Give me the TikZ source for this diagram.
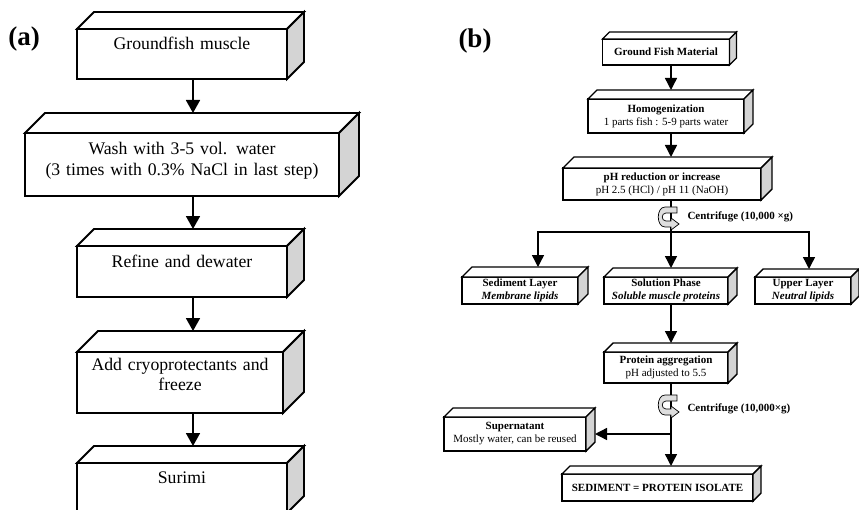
\documentclass[tikz,border=0pt]{standalone}
\usepackage{fontspec}
\setmainfont{Liberation Serif}
\usepackage{tikz}
\usetikzlibrary{arrows.meta, positioning, calc}
\definecolor{sideface}{RGB}{212,212,212}
\definecolor{spinfill}{RGB}{222,222,222}
\newcommand{\bigfont}{\fontsize{17.7bp}{20.5bp}\selectfont}
\newcommand{\smallfont}{\fontsize{11bp}{13bp}\selectfont}
\tikzset{
  abox/.style={rectangle,draw,line width=1.8bp,fill=white,outer sep=0pt,inner xsep=4bp,inner ysep=0pt,align=center,font=\bigfont},
  bbox/.style={rectangle,draw,line width=1.4bp,fill=white,outer sep=0pt,inner sep=1bp,align=center,font=\smallfont},
  aarrow/.style={-{Triangle[width=14bp,length=13bp]},line width=1.8bp},
  barrow/.style={-{Triangle[width=12bp,length=12bp]},line width=1.4bp},
  panel/.style={font=\fontsize{27bp}{30bp}\selectfont\bfseries},
}

\begin{document}
\begin{tikzpicture}[x=1bp,y=-1bp]
  \useasboundingbox (0,0) rectangle (859,510);
  \node[panel] (pa) at (24,39) {(a)};
  \node[panel] (pb) at (475,41) {(b)};
  \node[abox,text width=202bp,text height=21bp,text depth=29bp,anchor=north] (ga) at (182,29) {Groundfish muscle};
  \node[abox,text width=306bp,text height=22bp,text depth=41bp,below=54bp of ga] (gb) {Wash with 3-5 vol. water\\(3 times with 0.3\% NaCl in last step)};
  \node[abox,text width=202bp,text height=21bp,text depth=30bp,below=50bp of gb] (gc) {Refine and dewater};
  \node[abox,text width=198bp,text height=18bp,text depth=43bp,below=55bp of gc,xshift=-2bp] (gd) {Add cryoprotectants and\\freeze};
  \node[abox,text width=202bp,text height=20bp,text depth=30bp,below=50bp of gd,xshift=2bp] (ge) {Surimi};
  \foreach \n/\dep in {ga/17,gb/20,gc/17,gd/21,ge/17} {
    \draw[line width=1.8bp,fill=white] (\n.north west) -- ++(\dep,-\dep) -- ($(\n.north east)+(\dep,-\dep)$) -- (\n.north east) -- cycle;
    \draw[line width=1.8bp,fill=sideface] (\n.north east) -- ++(\dep,-\dep) -- ($(\n.south east)+(\dep,-\dep)$) -- (\n.south east) -- cycle;
    \coordinate (\n-top) at ($(\n.north)+(\dep,-\dep)$);
  }
  \coordinate (acol) at (193,0);
  \foreach \i/\j in {ga/gb,gb/gc,gc/gd,gd/ge}
    \draw[aarrow] (\i.south -| acol) -- (\j-top -| acol);

  \node[bbox,minimum width=127bp,minimum height=26bp] (fa) at (666,52) {\textbf{Ground Fish Material}};
  \node[bbox,minimum width=156bp,minimum height=34bp,below=34bp of fa] (fb) {\textbf{Homogenization}\\1 parts fish : 5-9 parts water};
  \node[bbox,minimum width=198bp,minimum height=32bp,below=35bp of fb,xshift=-4bp] (fc) {\textbf{pH reduction or increase}\\pH 2.5 (HCl) / pH 11 (NaOH)};
  \node[bbox,minimum width=124bp,minimum height=27bp,below=77bp of fc,xshift=4bp] (fe) {\textbf{Solution Phase}\\\textbf{\textit{Soluble muscle proteins}}};
  \node[bbox,minimum width=116bp,minimum height=27bp,left=26bp of fe] (fd) {\textbf{Sediment Layer}\\\textbf{\textit{Membrane lipids}}};
  \node[bbox,minimum width=96bp,minimum height=27bp,right=27bp of fe] (ff) {\textbf{Upper Layer}\\\textbf{\textit{Neutral lipids}}};
  \node[bbox,minimum width=124bp,minimum height=31bp,below=48bp of fe] (fg) {\textbf{Protein aggregation}\\pH adjusted to 5.5};
  \node[bbox,minimum width=142bp,minimum height=34bp] (fh) at (515,434) {\textbf{Supernatant}\\Mostly water, can be reused};
  \node[bbox,minimum width=191bp,minimum height=27bp] (fi) at (657.5,487.5) {\textbf{SEDIMENT = PROTEIN ISOLATE}};
  \foreach \n/\dep in {fa/7,fb/9,fc/11,fd/10,fe/9,ff/8,fg/9,fh/9,fi/8} {
    \draw[line width=1.4bp,fill=white] (\n.north west) -- ++(\dep,-\dep) -- ($(\n.north east)+(\dep,-\dep)$) -- (\n.north east) -- cycle;
    \draw[line width=1.4bp,fill=sideface] (\n.north east) -- ++(\dep,-\dep) -- ($(\n.south east)+(\dep,-\dep)$) -- (\n.south east) -- cycle;
    \coordinate (\n-top) at ($(\n.north)+(\dep,-\dep)$);
  }
  \coordinate (bcol) at (671,0);
  \coordinate (split) at (671,232);
  \coordinate (split2) at (671,434);
  \foreach \i/\j in {fa/fb,fb/fc,fc/fe,fe/fg,fg/fi}
    \draw[barrow] (\i.south -| bcol) -- (\j-top -| bcol);
  \draw[barrow] (split) -| ([xshift=8bp]fd-top);
  \draw[barrow] (split) -| ([xshift=-2bp]ff-top);
  \draw[barrow] (split2) -- ([xshift=9bp]fh.east);
  \foreach \cy in {218,406}
    \draw[line width=0.7bp,fill=spinfill,shift={(671,\cy)}] (6,-11) -- (-6,-11) .. controls (-15,-11) and (-15,9) .. (-6,9) -- (0,9) -- (0,12) -- (8,6) -- (0,0) -- (0,3) -- (-5,3) .. controls (-10,3) and (-10,-5) .. (-5,-5) -- (6,-5) -- cycle;
  \node[font=\smallfont\bfseries,anchor=west] (ca) at (684,217) {Centrifuge (10,000 ×g)};
  \node[font=\smallfont\bfseries,anchor=west] (cb) at (684,409) {Centrifuge (10,000×g)};
\end{tikzpicture}
\end{document}
